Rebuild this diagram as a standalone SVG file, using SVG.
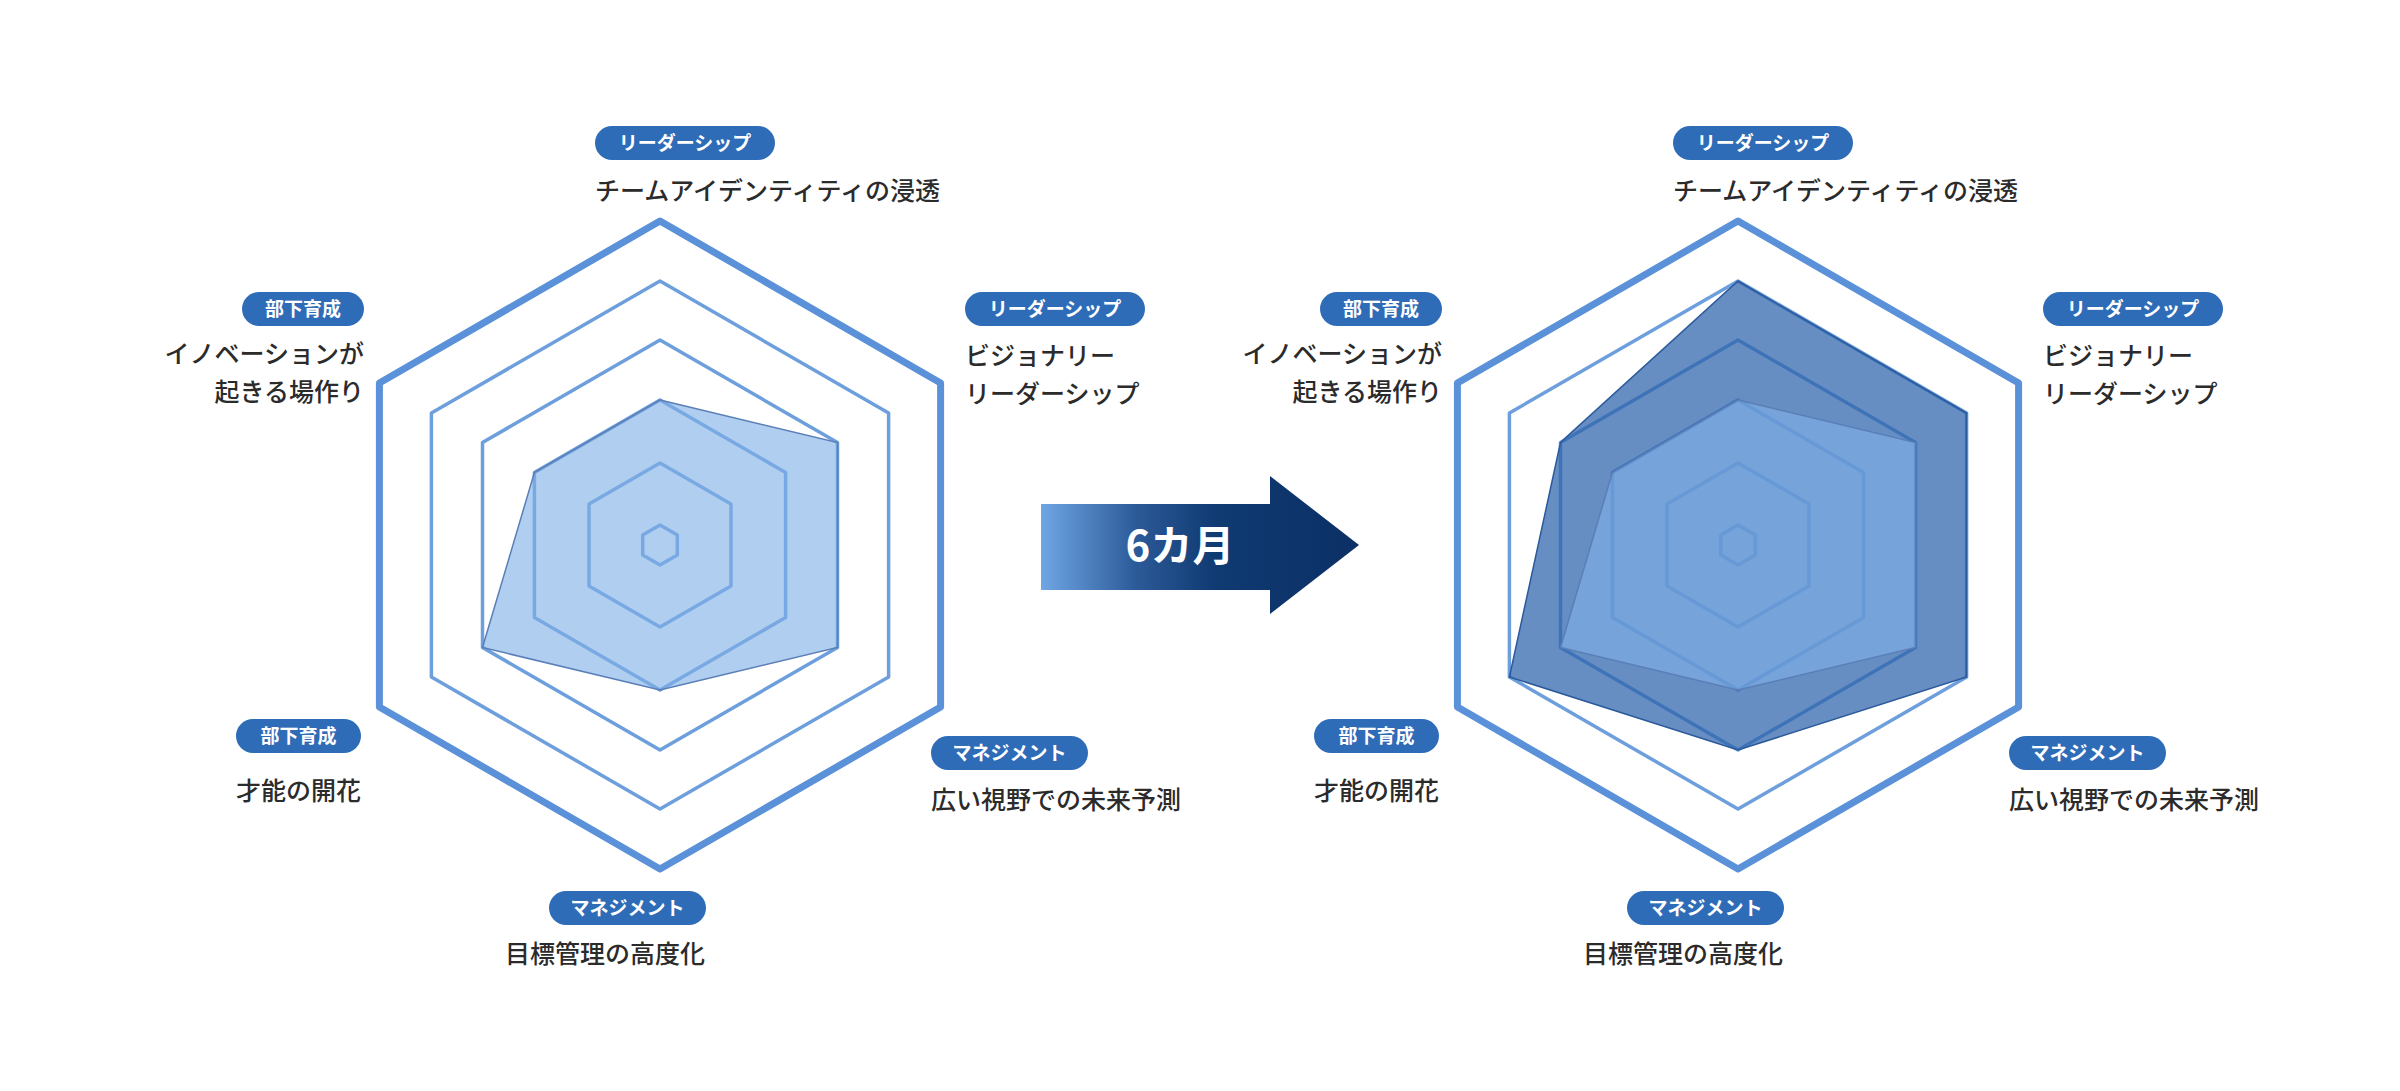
<svg xmlns="http://www.w3.org/2000/svg" xmlns:xlink="http://www.w3.org/1999/xlink" width="2400" height="1091" viewBox="0 0 2400 1091">
<style>
.outer{fill:none;stroke:#5a91d8;stroke-width:7;stroke-linejoin:round}
.ring{fill:none;stroke:#6d9fdc;stroke-width:3.5;stroke-linejoin:round}
.light{fill:#7fb0e6;fill-opacity:0.62;stroke:#5a7fb8;stroke-width:1.5}
.dark{fill:#2c62aa;fill-opacity:0.72;stroke:#2a5a9c;stroke-width:1.5}
.pill{fill:#2f6cb8}
.pt{font-family:"Noto Sans CJK JP","Noto Sans",sans-serif;font-size:19px;font-weight:700;fill:#fff}
.lt{font-family:"Noto Sans CJK JP","Noto Sans",sans-serif;font-size:25px;font-weight:500;fill:#2b2b2b}
</style>
<defs>
<g id="rings">
<polygon class="ring" points="0,-264 228.6,-132 228.6,132 0,264 -228.6,132 -228.6,-132"/>
<polygon class="ring" points="0,-205 177.5,-102.5 177.5,102.5 0,205 -177.5,102.5 -177.5,-102.5"/>
<polygon class="ring" points="0,-145 125.6,-72.5 125.6,72.5 0,145 -125.6,72.5 -125.6,-72.5"/>
<polygon class="ring" points="0,-82 71,-41 71,41 0,82 -71,41 -71,-41"/>
<polygon class="ring" points="0,-20 17.3,-10 17.3,10 0,20 -17.3,10 -17.3,-10"/>
<polygon class="outer" points="0,-324 280.6,-162 280.6,162 0,324 -280.6,162 -280.6,-162"/>
</g>
<g id="labels">
<rect class="pill" x="-65" y="-419" width="180" height="34" rx="17"/>
<text class="pt" x="25" y="-395" text-anchor="middle">リーダーシップ</text>
<text class="lt" x="-65" y="-345">チームアイデンティティの浸透</text>
<rect class="pill" x="305" y="-253" width="180" height="34" rx="17"/>
<text class="pt" x="395" y="-229" text-anchor="middle">リーダーシップ</text>
<text class="lt" x="305" y="-180">ビジョナリー</text>
<text class="lt" x="305" y="-142">リーダーシップ</text>
<rect class="pill" x="271" y="191" width="157" height="34" rx="17"/>
<text class="pt" x="349.5" y="215" text-anchor="middle">マネジメント</text>
<text class="lt" x="271" y="264">広い視野での未来予測</text>
<rect class="pill" x="-111" y="346" width="157" height="34" rx="17"/>
<text class="pt" x="-32.5" y="370" text-anchor="middle">マネジメント</text>
<text class="lt" x="45" y="418" text-anchor="end">目標管理の高度化</text>
<rect class="pill" x="-418" y="-253" width="122" height="34" rx="17"/>
<text class="pt" x="-357" y="-229" text-anchor="middle">部下育成</text>
<text class="lt" x="-296" y="-182" text-anchor="end">イノベーションが</text>
<text class="lt" x="-296" y="-144" text-anchor="end">起きる場作り</text>
<rect class="pill" x="-424" y="174" width="125" height="34" rx="17"/>
<text class="pt" x="-361.5" y="198" text-anchor="middle">部下育成</text>
<text class="lt" x="-299" y="255" text-anchor="end">才能の開花</text>
</g>
<linearGradient id="ag" x1="1041" y1="0" x2="1359" y2="0" gradientUnits="userSpaceOnUse">
<stop offset="0" stop-color="#6fa6e4"/>
<stop offset="0.3" stop-color="#2c5a98"/>
<stop offset="0.55" stop-color="#0f3a72"/>
<stop offset="1" stop-color="#0b3066"/>
</linearGradient>
</defs>
<g id="chart-before" transform="translate(660,545)">
<use xlink:href="#rings" href="#rings"/>
<polygon class="light" points="0,-145 177.5,-102.5 177.5,102.5 0,145 -177.5,102.5 -125.6,-72.5"/>
<use xlink:href="#labels" href="#labels"/>
</g>
<g id="chart-after" transform="translate(1738,545)">
<use xlink:href="#rings" href="#rings"/>
<polygon class="dark" points="0,-264 228.6,-132 228.6,132 0,205 -228.6,132 -177.5,-102.5"/>
<polygon class="light" points="0,-145 177.5,-102.5 177.5,102.5 0,145 -177.5,102.5 -125.6,-72.5"/>
<use xlink:href="#labels" href="#labels"/>
</g>
<g id="connectors">
<g id="arrow">
<polygon fill="url(#ag)" points="1041,504 1270,504 1270,476 1359,545 1270,614 1270,590 1041,590"/>
<text x="1180" y="561" text-anchor="middle" font-family="'Noto Sans CJK JP','Noto Sans',sans-serif" font-size="42" font-weight="700" fill="#fff">6カ月</text>
</g>
</g>
</svg>
